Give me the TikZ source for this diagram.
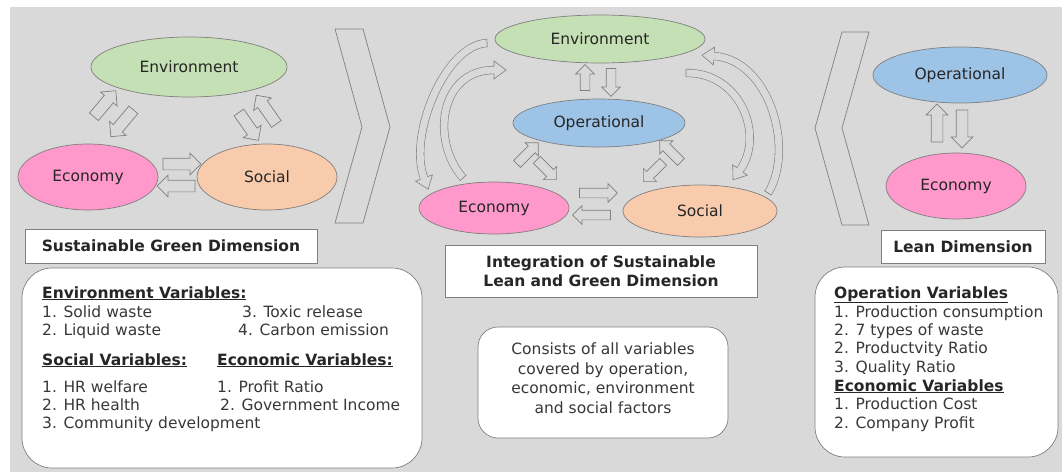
\documentclass[tikz,border=0pt]{standalone}
\usepackage{fontspec}
\setmainfont{DejaVu Sans}
\usetikzlibrary{shapes.geometric,shapes.arrows}
\definecolor{bg}{HTML}{D9D9D9}
\definecolor{lineg}{HTML}{7F7F7F}
\definecolor{cgreen}{HTML}{C5E0B4}
\definecolor{cblue}{HTML}{9DC3E6}
\definecolor{cpink}{HTML}{FF99CC}
\definecolor{cpeach}{HTML}{F8CBAD}
\definecolor{txt}{HTML}{262626}
\definecolor{txttwo}{HTML}{383838}
\newcommand{\lblfont}{\fontsize{15.5}{19.5}\selectfont}
\newcommand{\curvehead}[2]{\begin{scope}[shift={(#1)}, rotate=#2]
  \draw[lineg, line width=0.6pt, fill=bg, line join=miter] (0pt,3.8pt) -- (0pt,9pt) -- (12pt,0pt) -- (0pt,-9pt) -- (0pt,-3.8pt);
  \end{scope}}
\newcommand{\curvetail}[2]{\begin{scope}[shift={(#1)}, rotate=#2]
  \draw[lineg, line width=0.6pt] (0pt,-4.1pt) -- (0pt,4.1pt);
  \end{scope}}
\tikzset{
  ell/.style={ellipse, draw=lineg, line width=0.7pt, inner sep=0pt, text=txt, font=\lblfont},
  blockarr/.style={single arrow, draw=lineg, fill=bg, line width=0.7pt, inner sep=0pt, inner ysep=5.5pt, outer sep=0pt,
    single arrow head extend=5pt, single arrow tip angle=90},
  smallarr/.style={blockarr, inner ysep=4.5pt, single arrow head extend=4.5pt},
  titlebox/.style={rectangle, draw=lineg, fill=white, line width=0.7pt, text=txt, font=\lblfont\bfseries, align=center, inner sep=0pt},
  roundbox/.style={draw=lineg, fill=white, line width=0.7pt},
  vtext/.style={anchor=base west, inner sep=0pt, text=txttwo, font=\lblfont},
  vhead/.style={anchor=base west, inner sep=0pt, text=txt, font=\lblfont\bfseries},
  cband/.style={draw=lineg, line width=0.6pt, double=bg, double distance=7pt},
  chev/.style={draw=lineg, line width=0.7pt}
}
\begin{document}
\begin{tikzpicture}[x=1pt,y=-1pt]
\useasboundingbox (0,0) rectangle (1062,472);
\fill[bg] (10,7) rectangle (1062,472);

% ---------- left panel ----------
\node[ell, fill=cgreen, minimum width=196pt, minimum height=60pt] (lenv) at (189,67) {Environment};
\node[ell, fill=cpink, minimum width=140pt, minimum height=66pt] (lecon) at (88,177) {Economy};
\node[ell, fill=cpeach, minimum width=140pt, minimum height=66pt] (lsoc) at (267,177) {Social};

\node[blockarr, minimum height=38pt, rotate=0] (la1) at (179,164) {};
\node[blockarr, minimum height=38pt, rotate=180] (la2) at (179,186) {};
\node[blockarr, minimum height=34pt, rotate=50] (la3) at (103,106) {};
\node[blockarr, minimum height=35pt, rotate=230] (la4) at (124,121) {};
\node[blockarr, minimum height=34pt, rotate=-55] (la5) at (247,124) {};
\node[blockarr, minimum height=35pt, rotate=125] (la6) at (268,112) {};

\draw[chev] (335,29) -- (363,29) -- (390,127) -- (363,223) -- (335,223) -- (362,127) -- cycle;

\node[titlebox, minimum width=292pt, minimum height=34pt] (ltitle) at (171,246) {Sustainable Green Dimension};
\draw[roundbox, rounded corners=30pt] (22,268) rectangle (422,468);
\node[vhead] (lh1) at (42,298) {\underline{Environment Variables:}};
\node[vtext] (l11) at (42,317) {1. Solid waste};
\node[vtext] (l13) at (242,317) {3. Toxic release};
\node[vtext] (l12) at (42,335) {2. Liquid waste};
\node[vtext] (l14) at (238,335) {4. Carbon emission};
\node[vhead] (lh2) at (42,365) {\underline{Social Variables:}};
\node[vhead] (lh3) at (217,365) {\underline{Economic Variables:}};
\node[vtext] (l21) at (42,392) {1. HR welfare};
\node[vtext] (l31) at (217,392) {1. Profit Ratio};
\node[vtext] (l22) at (42,410) {2. HR health};
\node[vtext] (l32) at (220,410) {2. Government Income};
\node[vtext] (l23) at (42,428) {3. Community development};

% ---------- middle panel ----------
\node[ell, fill=cgreen, minimum width=210pt, minimum height=48pt] (menv) at (600,39) {Environment};
\node[ell, fill=cblue, minimum width=172pt, minimum height=48pt] (mop) at (599,123) {Operational};
\node[ell, fill=cpink, minimum width=150pt, minimum height=52pt] (mecon) at (494,208) {Economy};
\node[ell, fill=cpeach, minimum width=154pt, minimum height=52pt] (msoc) at (700,211) {Social};

\node[smallarr, minimum height=26pt, rotate=90] (ma1) at (585,80) {};
\node[smallarr, minimum height=28pt, rotate=-90] (ma2) at (611,80) {};
\node[smallarr, minimum height=30pt, rotate=45] (ma3) at (526,155) {};
\node[smallarr, minimum height=28pt, rotate=-45] (ma4) at (545,168) {};
\node[smallarr, minimum height=30pt, rotate=135] (ma5) at (672,153) {};
\node[smallarr, minimum height=28pt, rotate=225] (ma6) at (655,170) {};
\node[smallarr, minimum height=38pt, rotate=0] (ma7) at (596,193) {};
\node[smallarr, minimum height=38pt, rotate=180] (ma8) at (594,215) {};

% curved arrows
\coordinate (c1s) at (487,43); \coordinate (c1a) at (445,45); \coordinate (c1b) at (408,135); \coordinate (c1e) at (424,178);
\draw[cband] (c1s) .. controls (c1a) and (c1b) .. (c1e);
\curvetail{c1s}{182.7}\curvehead{c1e}{-69.6}

\coordinate (c2s) at (463,178); \coordinate (c2a) at (430,140); \coordinate (c2b) at (440,70); \coordinate (c2e) at (494,70);
\draw[cband] (c2s) .. controls (c2a) and (c2b) .. (c2e);
\curvetail{c2s}{131}\curvehead{c2e}{0}

\coordinate (c3s) at (686,73); \coordinate (c3a) at (740,72); \coordinate (c3b) at (765,135); \coordinate (c3e) at (740,170);
\draw[cband] (c3s) .. controls (c3a) and (c3b) .. (c3e);
\curvetail{c3s}{1}\curvehead{c3e}{234.5}

\coordinate (c4s) at (768,193); \coordinate (c4a) at (795,150); \coordinate (c4b) at (770,60); \coordinate (c4e) at (714,56);
\draw[cband] (c4s) .. controls (c4a) and (c4b) .. (c4e);
\curvetail{c4s}{57.9}\curvehead{c4e}{175.9}

\node[titlebox, minimum width=312pt, minimum height=52pt] (mtitle) at (601,271) {Integration of Sustainable\\Lean and Green Dimension};
\draw[roundbox, rounded corners=20pt] (478,327) rectangle (728,438);
\node[align=center, text=txttwo, font=\lblfont, inner sep=0pt] (mtext) at (603,378) {Consists of all variables\\covered by operation,\\economic, environment\\and social factors};

% ---------- right panel ----------
\draw[chev] (842,32) -- (869,32) -- (842,128) -- (869,225) -- (842,225) -- (815,128) -- cycle;
\node[ell, fill=cblue, minimum width=174pt, minimum height=56pt] (rop) at (960,75) {Operational};
\node[ell, fill=cpink, minimum width=140pt, minimum height=66pt] (recon) at (956,186) {Economy};
\node[blockarr, minimum height=38pt, rotate=90] (ra1) at (937,126) {};
\node[blockarr, minimum height=38pt, rotate=-90] (ra2) at (962,126) {};

\node[titlebox, minimum width=164pt, minimum height=33pt] (rtitle) at (963,246.5) {Lean Dimension};
\draw[roundbox, rounded corners=30pt] (815,267) rectangle (1058,457);
\node[vhead] (rh1) at (834,298) {\underline{Operation Variables}};
\node[vtext] (r11) at (834,317) {1. Production consumption};
\node[vtext] (r12) at (834,335) {2. 7 types of waste};
\node[vtext] (r13) at (834,353) {2. Productvity Ratio};
\node[vtext] (r14) at (834,372) {3. Quality Ratio};
\node[vhead] (rh2) at (834,391) {\underline{Economic Variables}};
\node[vtext] (r21) at (834,409) {1. Production Cost};
\node[vtext] (r22) at (834,428) {2. Company Profit};
\end{tikzpicture}
\end{document}
